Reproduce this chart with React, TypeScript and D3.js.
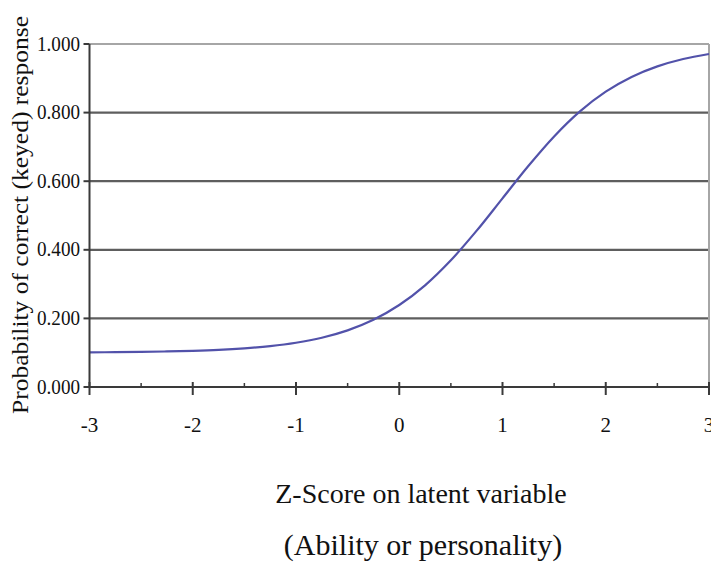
import React from "react";
import * as d3 from "d3";

// Z-scores (latent variable) and probability of correct (keyed) response
const zScores = [-3, -2.75, -2.5, -2.25, -2, -1.75, -1.5, -1.25, -1, -0.75, -0.5, -0.25, 0, 0.25, 0.5, 0.75, 1, 1.25, 1.5, 1.75, 2, 2.25, 2.5, 2.75, 3];
const probabilities = [0.101, 0.1015, 0.1023, 0.1036, 0.1055, 0.1083, 0.1127, 0.1192, 0.1291, 0.1437, 0.1652, 0.196, 0.239, 0.2965, 0.3695, 0.4558, 0.55, 0.6442, 0.7305, 0.8035, 0.861, 0.904, 0.9348, 0.9563, 0.9709];

const yTicks = [0, 0.2, 0.4, 0.6, 0.8, 1.0];
const xMajorTicks = [-3, -2, -1, 0, 1, 2, 3];
const xMinorTicks = [-2.5, -1.5, -0.5, 0.5, 1.5, 2.5];

const yAxisTitle = "Probability of correct (keyed) response";
const xAxisTitle1 = "Z-Score on latent variable";
const xAxisTitle2 = "(Ability or personality)";

const W = 711;
const H = 573;
const FONT = "'Liberation Serif', 'Times New Roman', serif";

export default function App() {
  const x = d3.scaleLinear().domain([-3, 3]).range([89.5, 709]);
  const y = d3.scaleLinear().domain([0, 1]).range([387, 44]);

  const pts: [number, number][] = zScores.map((z, i) => [z, probabilities[i]]);
  const line = d3
    .line<[number, number]>()
    .x((d) => x(d[0]))
    .y((d) => y(d[1]))
    .curve(d3.curveCatmullRom.alpha(0.5));

  const fmt = d3.format(".3f");

  return (
    <svg
      width={W}
      height={H}
      style={{ position: "absolute", left: 0, top: 0, background: "#fff" }}
      fontFamily={FONT}
    >
      <rect x={0} y={0} width={W} height={H} fill="#fff" />
      {/* gridlines */}
      {yTicks
        .filter((t) => t > 0 && t < 1)
        .map((t) => (
          <line key={t} x1={x(-3)} x2={x(3)} y1={y(t)} y2={y(t)} stroke="#5e5e5e" strokeWidth={2.2} />
        ))}
      {/* plot border top/right */}
      <line x1={x(-3)} x2={x(3)} y1={y(1)} y2={y(1)} stroke="#a6a6a6" strokeWidth={2} />
      <line x1={x(3)} x2={x(3)} y1={y(1)} y2={y(0)} stroke="#a6a6a6" strokeWidth={2} />

      {/* curve */}
      <path d={line(pts) || ""} fill="none" stroke="#5252aa" strokeWidth={2.2} />

      {/* y axis */}
      <line x1={x(-3)} x2={x(-3)} y1={y(1)} y2={y(0)} stroke="#3a3a3a" strokeWidth={2} />
      {yTicks.map((t) => (
        <g key={t}>
          <line x1={x(-3) - 6} x2={x(-3)} y1={y(t)} y2={y(t)} stroke="#3a3a3a" strokeWidth={2} />
          <text
            x={80}
            y={y(t) + 6.5}
            textAnchor="end"
            fontSize={22}
            fill="#111"
            textLength={43}
            lengthAdjust="spacingAndGlyphs"
          >
            {fmt(t)}
          </text>
        </g>
      ))}

      {/* x axis */}
      <line x1={x(-3)} x2={x(3)} y1={y(0)} y2={y(0)} stroke="#3a3a3a" strokeWidth={2} />
      {xMajorTicks.map((t) => (
        <g key={t}>
          <line x1={x(t)} x2={x(t)} y1={y(0) - 5} y2={y(0) + 8} stroke="#3a3a3a" strokeWidth={2} />
          <text x={x(t)} y={432} textAnchor="middle" fontSize={21} fill="#111">
            {String(t)}
          </text>
        </g>
      ))}
      {xMinorTicks.map((t) => (
        <line key={t} x1={x(t)} x2={x(t)} y1={y(0) - 4} y2={y(0)} stroke="#3a3a3a" strokeWidth={1.5} />
      ))}

      {/* axis titles */}
      <text
        transform={`translate(28, 215) rotate(-90)`}
        textAnchor="middle"
        fontSize={23}
        fill="#111"
        textLength={398}
        lengthAdjust="spacingAndGlyphs"
      >
        {yAxisTitle}
      </text>
      <text x={421} y={503} textAnchor="middle" fontSize={28} fill="#111">
        {xAxisTitle1}
      </text>
      <text x={423} y={555} textAnchor="middle" fontSize={30} fill="#111">
        {xAxisTitle2}
      </text>
    </svg>
  );
}
